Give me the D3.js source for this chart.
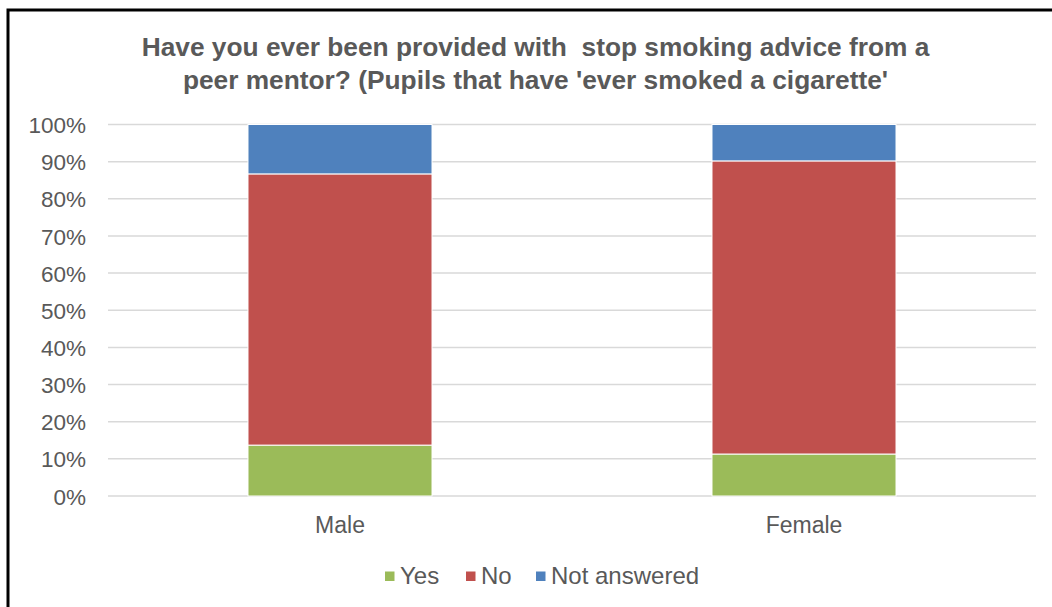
<!DOCTYPE html>
<html>
<head>
<meta charset="utf-8">
<script src="https://cdn.jsdelivr.net/npm/d3@7"></script>
<style>
  html, body { margin: 0; padding: 0; background: #fff; }
  svg { display: block; }
  text { font-family: "Liberation Sans", Arial, sans-serif; fill: #595959; }
</style>
</head>
<body>
<svg id="chart" width="1052" height="607"></svg>
<script>
const categories = ["Male", "Female"];
const seriesNames = ["Yes", "No", "Not answered"];
const yesValues = [13.7, 11.3];
const noValues = [73.0, 78.9];
const notAnsweredValues = [13.3, 9.8];
const yTicks = [0, 10, 20, 30, 40, 50, 60, 70, 80, 90, 100];
const colors = ["#9BBB59", "#C0504D", "#4F81BD"];
const titleLines = ["Have you ever been provided with  stop smoking advice from a",
                    "peer mentor? (Pupils that have 'ever smoked a cigarette'"];

const svg = d3.select("#chart");

// frame
svg.append("rect").attr("x", 8).attr("y", 10).attr("width", 1100).attr("height", 700)
  .attr("fill", "none").attr("stroke", "#000").attr("stroke-width", 3);

const margin = { left: 108, right: 1036, top: 124.5, bottom: 496 };

const x = d3.scaleBand().domain(categories)
  .range([margin.left, margin.right])
  .paddingInner(0.6034).paddingOuter(0.3017);
const y = d3.scaleLinear().domain([0, 100]).range([margin.bottom, margin.top]);

// gridlines
svg.append("g").selectAll("line").data(yTicks).join("line")
  .attr("x1", margin.left).attr("x2", margin.right)
  .attr("y1", d => y(d)).attr("y2", d => y(d))
  .attr("stroke", "#d9d9d9").attr("stroke-width", 1.5);

// y axis labels
const yAxis = d3.axisLeft(y).tickValues(yTicks).tickFormat(d => d + "%").tickSize(0).tickPadding(0);
const gy = svg.append("g").attr("transform", `translate(86,0)`).call(yAxis);
gy.select(".domain").remove();
gy.selectAll("text").attr("font-size", 22.5).style("font-family", '"Liberation Sans", Arial, sans-serif').attr("fill", "#595959").attr("dy", "0.36em");

// stacked data
const rows = categories.map((c, i) => ({ cat: c, "Yes": yesValues[i], "No": noValues[i], "Not answered": notAnsweredValues[i] }));
const stack = d3.stack().keys(seriesNames)(rows);

svg.append("g").selectAll("g").data(stack).join("g")
  .attr("fill", (d, i) => colors[i])
  .selectAll("rect").data(d => d).join("rect")
  .attr("x", d => x(d.data.cat))
  .attr("width", x.bandwidth())
  .attr("y", d => y(d[1]))
  .attr("height", d => y(d[0]) - y(d[1]))
  .attr("stroke", "#fff").attr("stroke-width", 1);

// x axis labels
const xAxis = d3.axisBottom(x).tickSize(0).tickPadding(0);
const gx = svg.append("g").attr("transform", `translate(0,${margin.bottom})`).call(xAxis);
gx.select(".domain").remove();
gx.selectAll("text").attr("font-size", 23).style("font-family", '"Liberation Sans", Arial, sans-serif').attr("fill", "#595959").attr("dy", null).attr("y", 36.5);

// title
svg.append("g").selectAll("text").data(titleLines).join("text")
  .attr("x", 535.5).attr("y", (d, i) => 56 + i * 33)
  .attr("text-anchor", "middle").attr("font-size", 26.3).attr("font-weight", "bold")
  .attr("xml:space", "preserve").style("white-space", "pre")
  .text(d => d);

// legend
const legendX = [385, 466, 536];
const lg = svg.append("g").selectAll("g").data(seriesNames).join("g")
  .attr("transform", (d, i) => `translate(${legendX[i]},0)`);
lg.append("rect").attr("x", 0).attr("y", 571.5).attr("width", 9.5).attr("height", 9.5).attr("fill", (d, i) => colors[i]);
lg.append("text").attr("x", 15).attr("y", 584).attr("font-size", 24).text(d => d);
</script>
</body>
</html>
